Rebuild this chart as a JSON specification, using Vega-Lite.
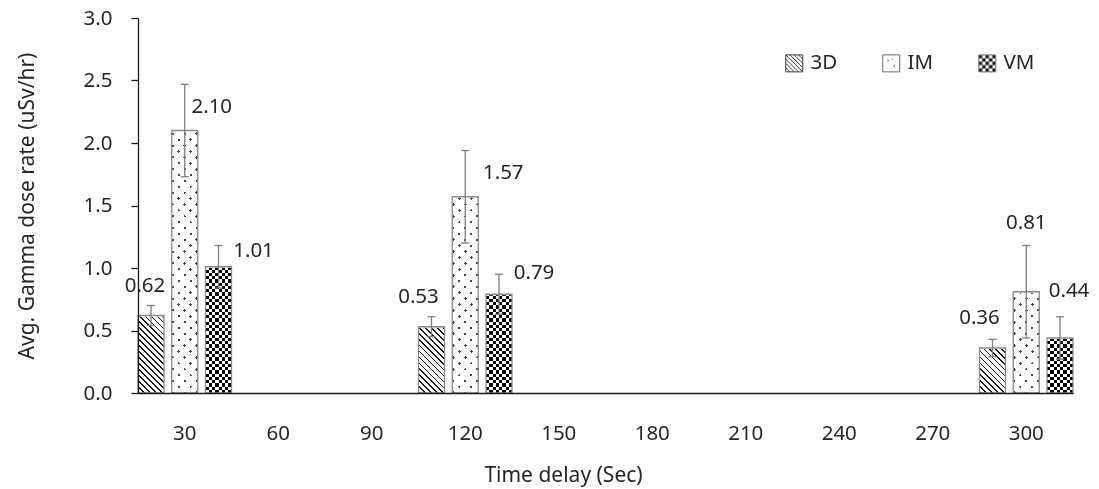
{
  "$schema": "https://vega.github.io/schema/vega-lite/v6.json",
  "width": 935,
  "height": 375,
  "autosize": {"type": "none"},
  "padding": {"left": 138, "top": 18, "right": 26, "bottom": 96},
  "background": "white",
  "config": {
    "view": {"stroke": null},
    "font": "Noto Sans",
    "axis": {
      "labelFont": "Noto Sans",
      "titleFont": "Noto Sans",
      "labelColor": "#262626",
      "titleColor": "#262626",
      "titleFontWeight": "normal",
      "grid": false,
      "domainColor": "#1a1a1a",
      "tickColor": "#1a1a1a"
    },
    "legend": {"labelFont": "Noto Sans", "labelColor": "#262626"}
  },
  "data": {
    "values": [
      {"delay": 30, "series": "3D", "value": 0.62, "low": 0.54, "high": 0.70},
      {"delay": 30, "series": "IM", "value": 2.10, "low": 1.73, "high": 2.47},
      {"delay": 30, "series": "VM", "value": 1.01, "low": 0.84, "high": 1.18},
      {"delay": 120, "series": "3D", "value": 0.53, "low": 0.45, "high": 0.61},
      {"delay": 120, "series": "IM", "value": 1.57, "low": 1.20, "high": 1.94},
      {"delay": 120, "series": "VM", "value": 0.79, "low": 0.63, "high": 0.95},
      {"delay": 300, "series": "3D", "value": 0.36, "low": 0.29, "high": 0.43},
      {"delay": 300, "series": "IM", "value": 0.81, "low": 0.44, "high": 1.18},
      {"delay": 300, "series": "VM", "value": 0.44, "low": 0.27, "high": 0.61}
    ]
  },
  "encoding": {
    "x": {
      "field": "delay",
      "type": "ordinal",
      "scale": {"domain": [30, 60, 90, 120, 150, 180, 210, 240, 270, 300], "paddingInner": 0, "paddingOuter": 0},
      "axis": {
        "title": "Time delay (Sec)",
        "labelAngle": 0,
        "ticks": false,
        "tickSize": 0,
        "labelPadding": 30,
        "labelFontSize": 20.5,
        "titleFontSize": 21,
        "titleX": 425,
        "titleY": 71,
        "domainWidth": 1.3,
        "zindex": 1
      }
    },
    "xOffset": {
      "field": "series",
      "type": "nominal",
      "scale": {"domain": ["3D", "IM", "VM"], "paddingInner": 0.23, "paddingOuter": 0}
    }
  },
  "layer": [
    {
      "mark": {"type": "point", "filled": true, "opacity": 1, "size": 289, "strokeWidth": 1},
      "encoding": {
        "y": {
          "field": "value",
          "type": "quantitative",
          "scale": {"domain": [0, 3], "nice": false},
          "axis": {
            "title": "Avg. Gamma dose rate (uSv/hr)",
            "values": [0, 0.5, 1, 1.5, 2, 2.5, 3],
            "format": ".1f",
            "tickSize": 7,
            "tickWidth": 1.3,
            "labelPadding": 19,
            "labelFontSize": 20.5,
            "titleFontSize": 21,
            "titleX": -101,
            "titleY": 187.5,
            "domainWidth": 1.3,
            "zindex": 1
          }
        },
        "fill": {
          "field": "series",
          "type": "nominal",
          "scale": {"domain": ["3D", "IM", "VM"], "range": ["#ffffff", "#ffffff", "#111111"]},
          "legend": {
            "orient": "none",
            "legendX": 646,
            "legendY": 35,
            "direction": "horizontal",
            "title": null,
            "padding": 0,
            "labelFontSize": 20.5,
            "labelOffset": 6,
            "columnPadding": 42,
            "symbolSize": 289,
            "symbolStrokeWidth": 1,
            "zindex": 1
          }
        },
        "stroke": {
          "field": "series",
          "type": "nominal",
          "scale": {"domain": ["3D", "IM", "VM"], "range": ["#3a3a3a", "#6a6a6a", "#8a8a8a"]},
          "legend": {
            "orient": "none",
            "legendX": 646,
            "legendY": 35,
            "direction": "horizontal",
            "title": null,
            "padding": 0,
            "labelFontSize": 20.5,
            "labelOffset": 6,
            "columnPadding": 42,
            "symbolSize": 289,
            "symbolStrokeWidth": 1,
            "zindex": 1
          }
        },
        "shape": {
          "field": "series",
          "type": "nominal",
          "scale": {
            "domain": ["3D", "IM", "VM"],
            "range": [
              "M-1,-1H1V1H-1Z M-1,0.5L-0.5,1 M-1,0L0,1 M-1,-0.5L0.5,1 M-1,-1L1,1 M-0.5,-1L1,0.5 M0,-1L1,0 M0.5,-1L1,-0.5",
              "M-1,-1H1V1H-1Z M-0.45,-0.5L-0.3,-0.35L-0.45,-0.2 M0.45,0.15L0.3,0.3L0.45,0.45 M0.1,-0.55L0.25,-0.4",
              "M-1,-1H1V1H-1Z M-1,-0.6V-0.2H-0.6V-0.6Z M-1,0.2V0.6H-0.6V0.2Z M-0.6,-1V-0.6H-0.2V-1Z M-0.6,-0.2V0.2H-0.2V-0.2Z M-0.6,0.6V1H-0.2V0.6Z M-0.2,-0.6V-0.2H0.2V-0.6Z M-0.2,0.2V0.6H0.2V0.2Z M0.2,-1V-0.6H0.6V-1Z M0.2,-0.2V0.2H0.6V-0.2Z M0.2,0.6V1H0.6V0.6Z M0.6,-0.6V-0.2H1V-0.6Z M0.6,0.2V0.6H1V0.2Z"
            ]
          },
          "legend": {
            "orient": "none",
            "legendX": 646,
            "legendY": 35,
            "direction": "horizontal",
            "title": null,
            "padding": 0,
            "labelFontSize": 20.5,
            "labelOffset": 6,
            "columnPadding": 42,
            "symbolSize": 289,
            "symbolStrokeWidth": 1,
            "zindex": 1
          }
        }
      }
    },
    {
      "mark": {"type": "bar"},
      "encoding": {
        "y": {"datum": 3, "type": "quantitative"},
        "y2": {"datum": 0},
        "fill": {
          "condition": [
            {
              "test": "datum.series === '3D'",
              "value": {
                "gradient": "linear", "x1": 0, "y1": 1, "x2": 0.0273, "y2": 0.6059,
                "stops": [
                  {"offset": 0, "color": "#1a1a1a"}, {"offset": 0.012, "color": "#1a1a1a"}, {"offset": 0.012, "color": "#fff"}, {"offset": 0.04, "color": "#fff"},
                  {"offset": 0.04, "color": "#1a1a1a"}, {"offset": 0.052, "color": "#1a1a1a"}, {"offset": 0.052, "color": "#fff"}, {"offset": 0.08, "color": "#fff"},
                  {"offset": 0.08, "color": "#1a1a1a"}, {"offset": 0.092, "color": "#1a1a1a"}, {"offset": 0.092, "color": "#fff"}, {"offset": 0.12, "color": "#fff"},
                  {"offset": 0.12, "color": "#1a1a1a"}, {"offset": 0.132, "color": "#1a1a1a"}, {"offset": 0.132, "color": "#fff"}, {"offset": 0.16, "color": "#fff"},
                  {"offset": 0.16, "color": "#1a1a1a"}, {"offset": 0.172, "color": "#1a1a1a"}, {"offset": 0.172, "color": "#fff"}, {"offset": 0.2, "color": "#fff"},
                  {"offset": 0.2, "color": "#1a1a1a"}, {"offset": 0.212, "color": "#1a1a1a"}, {"offset": 0.212, "color": "#fff"}, {"offset": 0.24, "color": "#fff"},
                  {"offset": 0.24, "color": "#1a1a1a"}, {"offset": 0.252, "color": "#1a1a1a"}, {"offset": 0.252, "color": "#fff"}, {"offset": 0.28, "color": "#fff"},
                  {"offset": 0.28, "color": "#1a1a1a"}, {"offset": 0.292, "color": "#1a1a1a"}, {"offset": 0.292, "color": "#fff"}, {"offset": 0.32, "color": "#fff"},
                  {"offset": 0.32, "color": "#1a1a1a"}, {"offset": 0.332, "color": "#1a1a1a"}, {"offset": 0.332, "color": "#fff"}, {"offset": 0.36, "color": "#fff"},
                  {"offset": 0.36, "color": "#1a1a1a"}, {"offset": 0.372, "color": "#1a1a1a"}, {"offset": 0.372, "color": "#fff"}, {"offset": 0.4, "color": "#fff"},
                  {"offset": 0.4, "color": "#1a1a1a"}, {"offset": 0.412, "color": "#1a1a1a"}, {"offset": 0.412, "color": "#fff"}, {"offset": 0.44, "color": "#fff"},
                  {"offset": 0.44, "color": "#1a1a1a"}, {"offset": 0.452, "color": "#1a1a1a"}, {"offset": 0.452, "color": "#fff"}, {"offset": 0.48, "color": "#fff"},
                  {"offset": 0.48, "color": "#1a1a1a"}, {"offset": 0.492, "color": "#1a1a1a"}, {"offset": 0.492, "color": "#fff"}, {"offset": 0.52, "color": "#fff"},
                  {"offset": 0.52, "color": "#1a1a1a"}, {"offset": 0.532, "color": "#1a1a1a"}, {"offset": 0.532, "color": "#fff"}, {"offset": 0.56, "color": "#fff"},
                  {"offset": 0.56, "color": "#1a1a1a"}, {"offset": 0.572, "color": "#1a1a1a"}, {"offset": 0.572, "color": "#fff"}, {"offset": 0.6, "color": "#fff"},
                  {"offset": 0.6, "color": "#1a1a1a"}, {"offset": 0.612, "color": "#1a1a1a"}, {"offset": 0.612, "color": "#fff"}, {"offset": 0.64, "color": "#fff"},
                  {"offset": 0.64, "color": "#1a1a1a"}, {"offset": 0.652, "color": "#1a1a1a"}, {"offset": 0.652, "color": "#fff"}, {"offset": 0.68, "color": "#fff"},
                  {"offset": 0.68, "color": "#1a1a1a"}, {"offset": 0.692, "color": "#1a1a1a"}, {"offset": 0.692, "color": "#fff"}, {"offset": 0.72, "color": "#fff"},
                  {"offset": 0.72, "color": "#1a1a1a"}, {"offset": 0.732, "color": "#1a1a1a"}, {"offset": 0.732, "color": "#fff"}, {"offset": 0.76, "color": "#fff"},
                  {"offset": 0.76, "color": "#1a1a1a"}, {"offset": 0.772, "color": "#1a1a1a"}, {"offset": 0.772, "color": "#fff"}, {"offset": 0.8, "color": "#fff"},
                  {"offset": 0.8, "color": "#1a1a1a"}, {"offset": 0.812, "color": "#1a1a1a"}, {"offset": 0.812, "color": "#fff"}, {"offset": 0.84, "color": "#fff"},
                  {"offset": 0.84, "color": "#1a1a1a"}, {"offset": 0.852, "color": "#1a1a1a"}, {"offset": 0.852, "color": "#fff"}, {"offset": 0.88, "color": "#fff"},
                  {"offset": 0.88, "color": "#1a1a1a"}, {"offset": 0.892, "color": "#1a1a1a"}, {"offset": 0.892, "color": "#fff"}, {"offset": 0.92, "color": "#fff"},
                  {"offset": 0.92, "color": "#1a1a1a"}, {"offset": 0.932, "color": "#1a1a1a"}, {"offset": 0.932, "color": "#fff"}, {"offset": 0.96, "color": "#fff"},
                  {"offset": 0.96, "color": "#1a1a1a"}, {"offset": 0.972, "color": "#1a1a1a"}, {"offset": 0.972, "color": "#fff"}, {"offset": 1, "color": "#fff"}
                ]
              }
            },
            {
              "test": "datum.series === 'IM'",
              "value": {
                "gradient": "linear", "x1": 1, "y1": 1, "x2": 0.9459, "y2": 0.2193,
                "stops": [
                  {"offset": 0, "color": "#444"}, {"offset": 0.01, "color": "#444"}, {"offset": 0.01, "color": "#fff"}, {"offset": 0.04, "color": "#fff"},
                  {"offset": 0.04, "color": "#444"}, {"offset": 0.05, "color": "#444"}, {"offset": 0.05, "color": "#fff"}, {"offset": 0.08, "color": "#fff"},
                  {"offset": 0.08, "color": "#444"}, {"offset": 0.09, "color": "#444"}, {"offset": 0.09, "color": "#fff"}, {"offset": 0.12, "color": "#fff"},
                  {"offset": 0.12, "color": "#444"}, {"offset": 0.13, "color": "#444"}, {"offset": 0.13, "color": "#fff"}, {"offset": 0.16, "color": "#fff"},
                  {"offset": 0.16, "color": "#444"}, {"offset": 0.17, "color": "#444"}, {"offset": 0.17, "color": "#fff"}, {"offset": 0.2, "color": "#fff"},
                  {"offset": 0.2, "color": "#444"}, {"offset": 0.21, "color": "#444"}, {"offset": 0.21, "color": "#fff"}, {"offset": 0.24, "color": "#fff"},
                  {"offset": 0.24, "color": "#444"}, {"offset": 0.25, "color": "#444"}, {"offset": 0.25, "color": "#fff"}, {"offset": 0.28, "color": "#fff"},
                  {"offset": 0.28, "color": "#444"}, {"offset": 0.29, "color": "#444"}, {"offset": 0.29, "color": "#fff"}, {"offset": 0.32, "color": "#fff"},
                  {"offset": 0.32, "color": "#444"}, {"offset": 0.33, "color": "#444"}, {"offset": 0.33, "color": "#fff"}, {"offset": 0.36, "color": "#fff"},
                  {"offset": 0.36, "color": "#444"}, {"offset": 0.37, "color": "#444"}, {"offset": 0.37, "color": "#fff"}, {"offset": 0.4, "color": "#fff"},
                  {"offset": 0.4, "color": "#444"}, {"offset": 0.41, "color": "#444"}, {"offset": 0.41, "color": "#fff"}, {"offset": 0.44, "color": "#fff"},
                  {"offset": 0.44, "color": "#444"}, {"offset": 0.45, "color": "#444"}, {"offset": 0.45, "color": "#fff"}, {"offset": 0.48, "color": "#fff"},
                  {"offset": 0.48, "color": "#444"}, {"offset": 0.49, "color": "#444"}, {"offset": 0.49, "color": "#fff"}, {"offset": 0.52, "color": "#fff"},
                  {"offset": 0.52, "color": "#444"}, {"offset": 0.53, "color": "#444"}, {"offset": 0.53, "color": "#fff"}, {"offset": 0.56, "color": "#fff"},
                  {"offset": 0.56, "color": "#444"}, {"offset": 0.57, "color": "#444"}, {"offset": 0.57, "color": "#fff"}, {"offset": 0.6, "color": "#fff"},
                  {"offset": 0.6, "color": "#444"}, {"offset": 0.61, "color": "#444"}, {"offset": 0.61, "color": "#fff"}, {"offset": 0.64, "color": "#fff"},
                  {"offset": 0.64, "color": "#444"}, {"offset": 0.65, "color": "#444"}, {"offset": 0.65, "color": "#fff"}, {"offset": 0.68, "color": "#fff"},
                  {"offset": 0.68, "color": "#444"}, {"offset": 0.69, "color": "#444"}, {"offset": 0.69, "color": "#fff"}, {"offset": 0.72, "color": "#fff"},
                  {"offset": 0.72, "color": "#444"}, {"offset": 0.73, "color": "#444"}, {"offset": 0.73, "color": "#fff"}, {"offset": 0.76, "color": "#fff"},
                  {"offset": 0.76, "color": "#444"}, {"offset": 0.77, "color": "#444"}, {"offset": 0.77, "color": "#fff"}, {"offset": 0.8, "color": "#fff"},
                  {"offset": 0.8, "color": "#444"}, {"offset": 0.81, "color": "#444"}, {"offset": 0.81, "color": "#fff"}, {"offset": 0.84, "color": "#fff"},
                  {"offset": 0.84, "color": "#444"}, {"offset": 0.85, "color": "#444"}, {"offset": 0.85, "color": "#fff"}, {"offset": 0.88, "color": "#fff"},
                  {"offset": 0.88, "color": "#444"}, {"offset": 0.89, "color": "#444"}, {"offset": 0.89, "color": "#fff"}, {"offset": 0.92, "color": "#fff"},
                  {"offset": 0.92, "color": "#444"}, {"offset": 0.93, "color": "#444"}, {"offset": 0.93, "color": "#fff"}, {"offset": 0.96, "color": "#fff"},
                  {"offset": 0.96, "color": "#444"}, {"offset": 0.97, "color": "#444"}, {"offset": 0.97, "color": "#fff"}, {"offset": 1, "color": "#fff"}
                ]
              }
            }
          ],
          "value": {
            "gradient": "linear", "x1": 0, "y1": 0, "x2": 1, "y2": 0,
            "stops": [
              {"offset": 0, "color": "#000"}, {"offset": 0.125, "color": "#000"}, {"offset": 0.125, "color": "#fff"}, {"offset": 0.25, "color": "#fff"},
              {"offset": 0.25, "color": "#000"}, {"offset": 0.375, "color": "#000"}, {"offset": 0.375, "color": "#fff"}, {"offset": 0.5, "color": "#fff"},
              {"offset": 0.5, "color": "#000"}, {"offset": 0.625, "color": "#000"}, {"offset": 0.625, "color": "#fff"}, {"offset": 0.75, "color": "#fff"},
              {"offset": 0.75, "color": "#000"}, {"offset": 0.875, "color": "#000"}, {"offset": 0.875, "color": "#fff"}, {"offset": 1, "color": "#fff"}
            ]
          }
        }
      }
    },
    {
      "transform": [{"filter": "datum.series === 'IM'"}],
      "mark": {
        "type": "bar",
        "fill": {
          "gradient": "linear", "x1": 0, "y1": 1, "x2": 0.0541, "y2": 0.2193,
          "stops": [
            {"offset": 0, "color": "rgba(255,255,255,0)"}, {"offset": 0.01, "color": "rgba(255,255,255,0)"}, {"offset": 0.01, "color": "#fff"}, {"offset": 0.04, "color": "#fff"},
            {"offset": 0.04, "color": "rgba(255,255,255,0)"}, {"offset": 0.05, "color": "rgba(255,255,255,0)"}, {"offset": 0.05, "color": "#fff"}, {"offset": 0.08, "color": "#fff"},
            {"offset": 0.08, "color": "rgba(255,255,255,0)"}, {"offset": 0.09, "color": "rgba(255,255,255,0)"}, {"offset": 0.09, "color": "#fff"}, {"offset": 0.12, "color": "#fff"},
            {"offset": 0.12, "color": "rgba(255,255,255,0)"}, {"offset": 0.13, "color": "rgba(255,255,255,0)"}, {"offset": 0.13, "color": "#fff"}, {"offset": 0.16, "color": "#fff"},
            {"offset": 0.16, "color": "rgba(255,255,255,0)"}, {"offset": 0.17, "color": "rgba(255,255,255,0)"}, {"offset": 0.17, "color": "#fff"}, {"offset": 0.2, "color": "#fff"},
            {"offset": 0.2, "color": "rgba(255,255,255,0)"}, {"offset": 0.21, "color": "rgba(255,255,255,0)"}, {"offset": 0.21, "color": "#fff"}, {"offset": 0.24, "color": "#fff"},
            {"offset": 0.24, "color": "rgba(255,255,255,0)"}, {"offset": 0.25, "color": "rgba(255,255,255,0)"}, {"offset": 0.25, "color": "#fff"}, {"offset": 0.28, "color": "#fff"},
            {"offset": 0.28, "color": "rgba(255,255,255,0)"}, {"offset": 0.29, "color": "rgba(255,255,255,0)"}, {"offset": 0.29, "color": "#fff"}, {"offset": 0.32, "color": "#fff"},
            {"offset": 0.32, "color": "rgba(255,255,255,0)"}, {"offset": 0.33, "color": "rgba(255,255,255,0)"}, {"offset": 0.33, "color": "#fff"}, {"offset": 0.36, "color": "#fff"},
            {"offset": 0.36, "color": "rgba(255,255,255,0)"}, {"offset": 0.37, "color": "rgba(255,255,255,0)"}, {"offset": 0.37, "color": "#fff"}, {"offset": 0.4, "color": "#fff"},
            {"offset": 0.4, "color": "rgba(255,255,255,0)"}, {"offset": 0.41, "color": "rgba(255,255,255,0)"}, {"offset": 0.41, "color": "#fff"}, {"offset": 0.44, "color": "#fff"},
            {"offset": 0.44, "color": "rgba(255,255,255,0)"}, {"offset": 0.45, "color": "rgba(255,255,255,0)"}, {"offset": 0.45, "color": "#fff"}, {"offset": 0.48, "color": "#fff"},
            {"offset": 0.48, "color": "rgba(255,255,255,0)"}, {"offset": 0.49, "color": "rgba(255,255,255,0)"}, {"offset": 0.49, "color": "#fff"}, {"offset": 0.52, "color": "#fff"},
            {"offset": 0.52, "color": "rgba(255,255,255,0)"}, {"offset": 0.53, "color": "rgba(255,255,255,0)"}, {"offset": 0.53, "color": "#fff"}, {"offset": 0.56, "color": "#fff"},
            {"offset": 0.56, "color": "rgba(255,255,255,0)"}, {"offset": 0.57, "color": "rgba(255,255,255,0)"}, {"offset": 0.57, "color": "#fff"}, {"offset": 0.6, "color": "#fff"},
            {"offset": 0.6, "color": "rgba(255,255,255,0)"}, {"offset": 0.61, "color": "rgba(255,255,255,0)"}, {"offset": 0.61, "color": "#fff"}, {"offset": 0.64, "color": "#fff"},
            {"offset": 0.64, "color": "rgba(255,255,255,0)"}, {"offset": 0.65, "color": "rgba(255,255,255,0)"}, {"offset": 0.65, "color": "#fff"}, {"offset": 0.68, "color": "#fff"},
            {"offset": 0.68, "color": "rgba(255,255,255,0)"}, {"offset": 0.69, "color": "rgba(255,255,255,0)"}, {"offset": 0.69, "color": "#fff"}, {"offset": 0.72, "color": "#fff"},
            {"offset": 0.72, "color": "rgba(255,255,255,0)"}, {"offset": 0.73, "color": "rgba(255,255,255,0)"}, {"offset": 0.73, "color": "#fff"}, {"offset": 0.76, "color": "#fff"},
            {"offset": 0.76, "color": "rgba(255,255,255,0)"}, {"offset": 0.77, "color": "rgba(255,255,255,0)"}, {"offset": 0.77, "color": "#fff"}, {"offset": 0.8, "color": "#fff"},
            {"offset": 0.8, "color": "rgba(255,255,255,0)"}, {"offset": 0.81, "color": "rgba(255,255,255,0)"}, {"offset": 0.81, "color": "#fff"}, {"offset": 0.84, "color": "#fff"},
            {"offset": 0.84, "color": "rgba(255,255,255,0)"}, {"offset": 0.85, "color": "rgba(255,255,255,0)"}, {"offset": 0.85, "color": "#fff"}, {"offset": 0.88, "color": "#fff"},
            {"offset": 0.88, "color": "rgba(255,255,255,0)"}, {"offset": 0.89, "color": "rgba(255,255,255,0)"}, {"offset": 0.89, "color": "#fff"}, {"offset": 0.92, "color": "#fff"},
            {"offset": 0.92, "color": "rgba(255,255,255,0)"}, {"offset": 0.93, "color": "rgba(255,255,255,0)"}, {"offset": 0.93, "color": "#fff"}, {"offset": 0.96, "color": "#fff"},
            {"offset": 0.96, "color": "rgba(255,255,255,0)"}, {"offset": 0.97, "color": "rgba(255,255,255,0)"}, {"offset": 0.97, "color": "#fff"}, {"offset": 1, "color": "#fff"}
          ]
        }
      },
      "encoding": {
        "y": {"datum": 3, "type": "quantitative"},
        "y2": {"datum": 0}
      }
    },
    {
      "transform": [{"filter": "datum.series === 'VM'"}],
      "mark": {
        "type": "bar",
        "blend": "difference",
        "fill": {
          "gradient": "linear", "x1": 0, "y1": 1, "x2": 0, "y2": 0.56667,
          "stops": [
            {"offset": 0, "color": "#fff"}, {"offset": 0.02, "color": "#fff"}, {"offset": 0.02, "color": "rgba(255,255,255,0)"}, {"offset": 0.04, "color": "rgba(255,255,255,0)"},
            {"offset": 0.04, "color": "#fff"}, {"offset": 0.06, "color": "#fff"}, {"offset": 0.06, "color": "rgba(255,255,255,0)"}, {"offset": 0.08, "color": "rgba(255,255,255,0)"},
            {"offset": 0.08, "color": "#fff"}, {"offset": 0.1, "color": "#fff"}, {"offset": 0.1, "color": "rgba(255,255,255,0)"}, {"offset": 0.12, "color": "rgba(255,255,255,0)"},
            {"offset": 0.12, "color": "#fff"}, {"offset": 0.14, "color": "#fff"}, {"offset": 0.14, "color": "rgba(255,255,255,0)"}, {"offset": 0.16, "color": "rgba(255,255,255,0)"},
            {"offset": 0.16, "color": "#fff"}, {"offset": 0.18, "color": "#fff"}, {"offset": 0.18, "color": "rgba(255,255,255,0)"}, {"offset": 0.2, "color": "rgba(255,255,255,0)"},
            {"offset": 0.2, "color": "#fff"}, {"offset": 0.22, "color": "#fff"}, {"offset": 0.22, "color": "rgba(255,255,255,0)"}, {"offset": 0.24, "color": "rgba(255,255,255,0)"},
            {"offset": 0.24, "color": "#fff"}, {"offset": 0.26, "color": "#fff"}, {"offset": 0.26, "color": "rgba(255,255,255,0)"}, {"offset": 0.28, "color": "rgba(255,255,255,0)"},
            {"offset": 0.28, "color": "#fff"}, {"offset": 0.3, "color": "#fff"}, {"offset": 0.3, "color": "rgba(255,255,255,0)"}, {"offset": 0.32, "color": "rgba(255,255,255,0)"},
            {"offset": 0.32, "color": "#fff"}, {"offset": 0.34, "color": "#fff"}, {"offset": 0.34, "color": "rgba(255,255,255,0)"}, {"offset": 0.36, "color": "rgba(255,255,255,0)"},
            {"offset": 0.36, "color": "#fff"}, {"offset": 0.38, "color": "#fff"}, {"offset": 0.38, "color": "rgba(255,255,255,0)"}, {"offset": 0.4, "color": "rgba(255,255,255,0)"},
            {"offset": 0.4, "color": "#fff"}, {"offset": 0.42, "color": "#fff"}, {"offset": 0.42, "color": "rgba(255,255,255,0)"}, {"offset": 0.44, "color": "rgba(255,255,255,0)"},
            {"offset": 0.44, "color": "#fff"}, {"offset": 0.46, "color": "#fff"}, {"offset": 0.46, "color": "rgba(255,255,255,0)"}, {"offset": 0.48, "color": "rgba(255,255,255,0)"},
            {"offset": 0.48, "color": "#fff"}, {"offset": 0.5, "color": "#fff"}, {"offset": 0.5, "color": "rgba(255,255,255,0)"}, {"offset": 0.52, "color": "rgba(255,255,255,0)"},
            {"offset": 0.52, "color": "#fff"}, {"offset": 0.54, "color": "#fff"}, {"offset": 0.54, "color": "rgba(255,255,255,0)"}, {"offset": 0.56, "color": "rgba(255,255,255,0)"},
            {"offset": 0.56, "color": "#fff"}, {"offset": 0.58, "color": "#fff"}, {"offset": 0.58, "color": "rgba(255,255,255,0)"}, {"offset": 0.6, "color": "rgba(255,255,255,0)"},
            {"offset": 0.6, "color": "#fff"}, {"offset": 0.62, "color": "#fff"}, {"offset": 0.62, "color": "rgba(255,255,255,0)"}, {"offset": 0.64, "color": "rgba(255,255,255,0)"},
            {"offset": 0.64, "color": "#fff"}, {"offset": 0.66, "color": "#fff"}, {"offset": 0.66, "color": "rgba(255,255,255,0)"}, {"offset": 0.68, "color": "rgba(255,255,255,0)"},
            {"offset": 0.68, "color": "#fff"}, {"offset": 0.7, "color": "#fff"}, {"offset": 0.7, "color": "rgba(255,255,255,0)"}, {"offset": 0.72, "color": "rgba(255,255,255,0)"},
            {"offset": 0.72, "color": "#fff"}, {"offset": 0.74, "color": "#fff"}, {"offset": 0.74, "color": "rgba(255,255,255,0)"}, {"offset": 0.76, "color": "rgba(255,255,255,0)"},
            {"offset": 0.76, "color": "#fff"}, {"offset": 0.78, "color": "#fff"}, {"offset": 0.78, "color": "rgba(255,255,255,0)"}, {"offset": 0.8, "color": "rgba(255,255,255,0)"},
            {"offset": 0.8, "color": "#fff"}, {"offset": 0.82, "color": "#fff"}, {"offset": 0.82, "color": "rgba(255,255,255,0)"}, {"offset": 0.84, "color": "rgba(255,255,255,0)"},
            {"offset": 0.84, "color": "#fff"}, {"offset": 0.86, "color": "#fff"}, {"offset": 0.86, "color": "rgba(255,255,255,0)"}, {"offset": 0.88, "color": "rgba(255,255,255,0)"},
            {"offset": 0.88, "color": "#fff"}, {"offset": 0.9, "color": "#fff"}, {"offset": 0.9, "color": "rgba(255,255,255,0)"}, {"offset": 0.92, "color": "rgba(255,255,255,0)"},
            {"offset": 0.92, "color": "#fff"}, {"offset": 0.94, "color": "#fff"}, {"offset": 0.94, "color": "rgba(255,255,255,0)"}, {"offset": 0.96, "color": "rgba(255,255,255,0)"},
            {"offset": 0.96, "color": "#fff"}, {"offset": 0.98, "color": "#fff"}, {"offset": 0.98, "color": "rgba(255,255,255,0)"}, {"offset": 1, "color": "rgba(255,255,255,0)"}
          ]
        }
      },
      "encoding": {
        "y": {"datum": 3, "type": "quantitative"},
        "y2": {"datum": 0}
      }
    },
    {
      "mark": {"type": "bar", "fill": "white", "stroke": "white", "strokeWidth": 2},
      "encoding": {
        "y": {"field": "value", "type": "quantitative"},
        "y2": {"datum": 3}
      }
    },
    {
      "mark": {"type": "bar", "fill": "transparent", "stroke": "#8a8a8a", "strokeWidth": 1.3},
      "encoding": {
        "y": {"field": "value", "type": "quantitative"}
      }
    },
    {
      "mark": {"type": "rule", "color": "#7f7f7f", "strokeWidth": 1.3},
      "encoding": {
        "y": {"field": "low", "type": "quantitative"},
        "y2": {"field": "high"}
      }
    },
    {
      "mark": {"type": "tick", "color": "#7f7f7f", "opacity": 1, "size": 8, "thickness": 1.3},
      "encoding": {
        "y": {"field": "low", "type": "quantitative"}
      }
    },
    {
      "mark": {"type": "tick", "color": "#7f7f7f", "opacity": 1, "size": 8, "thickness": 1.3},
      "encoding": {
        "y": {"field": "high", "type": "quantitative"}
      }
    },
    {
      "mark": {
        "type": "text",
        "fontSize": 20.5,
        "color": "#262626",
        "align": "center",
        "baseline": "middle",
        "dx": {"expr": "datum.series === '3D' ? (datum.delay === 30 ? -6 : -13) : datum.series === 'IM' ? (datum.delay === 30 ? 27 : datum.delay === 120 ? 38 : 0) : (datum.delay === 300 ? 9 : 35)"},
        "dy": {"expr": "datum.series === '3D' ? -30 : datum.series === 'IM' ? (datum.delay === 300 ? -69 : -24) : (datum.delay === 30 ? -16 : datum.delay === 120 ? -21 : -47)"}
      },
      "encoding": {
        "y": {"field": "value", "type": "quantitative"},
        "text": {"field": "value", "type": "quantitative", "format": ".2f"}
      }
    }
  ]
}
